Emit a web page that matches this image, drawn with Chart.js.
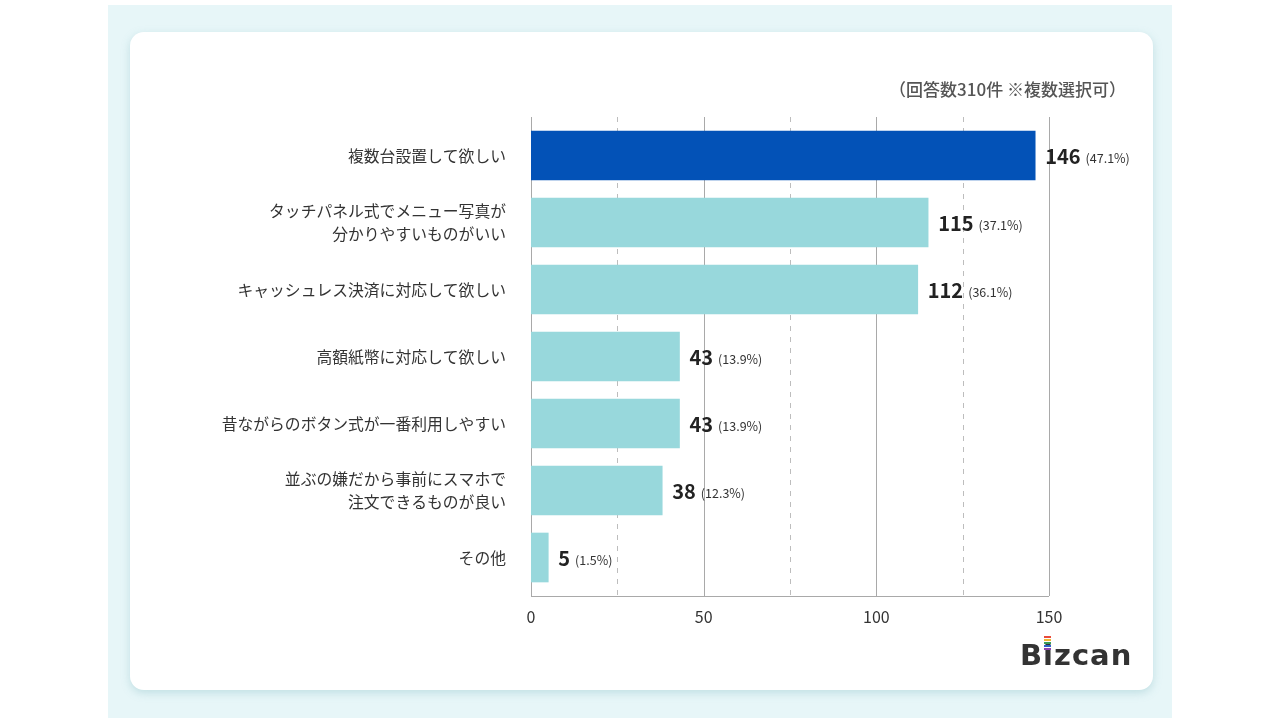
<!DOCTYPE html>
<html>
<head>
<meta charset="utf-8">
<script src="https://cdn.jsdelivr.net/npm/chart.js@4"></script>
<style>
  html, body { margin: 0; padding: 0; background: #ffffff; }
  #wrap { position: relative; width: 1280px; height: 720px; overflow: hidden; }
  #panel { position: absolute; left: 108px; top: 5px; width: 1064px; height: 713px; background: #e7f6f8; }
  #card { position: absolute; left: 130px; top: 32px; width: 1023px; height: 658px; background: #ffffff;
          border-radius: 14px; box-shadow: 0 3px 8px rgba(120, 180, 190, 0.35); }
  #chart { position: absolute; left: 0; top: 0; }
  #logo { position: absolute; left: 1020px; top: 640px; font-family: "DejaVu Sans", Lato, sans-serif;
          font-weight: 700; font-size: 29px; color: #333333; letter-spacing: 1px; line-height: 30px; }
  .flag { position: absolute; width: 7px; height: 2px; }
</style>
</head>
<body>
<div id="wrap">
  <div id="panel"></div>
  <div id="card"></div>
  <canvas id="chart" width="1280" height="720"></canvas>
  <div id="logo">Bizcan</div>
  <div class="flag" style="left:1044px;top:636px;background:#e94b3c"></div>
  <div class="flag" style="left:1044px;top:639px;background:#f2b632"></div>
  <div class="flag" style="left:1044px;top:642px;background:#3a9e5a"></div>
  <div class="flag" style="left:1044px;top:645px;background:#2e63c8"></div>
  <div class="flag" style="left:1044px;top:648px;background:#8e44ad"></div>
</div>
<script>
var categories = [
    '複数台設置して欲しい',
    ['タッチパネル式でメニュー写真が', '分かりやすいものがいい'],
    'キャッシュレス決済に対応して欲しい',
    '高額紙幣に対応して欲しい',
    '昔ながらのボタン式が一番利用しやすい',
    ['並ぶの嫌だから事前にスマホで', '注文できるものが良い'],
    'その他'
];
var counts = [146, 115, 112, 43, 43, 38, 5];
var percents = ['47.1%', '37.1%', '36.1%', '13.9%', '13.9%', '12.3%', '1.5%'];
var xTicks = [0, 50, 100, 150];
var noteText = '（回答数310件 ※複数選択可）';

var jpFont = '"Noto Sans CJK JP", "Noto Sans", sans-serif';
var barColors = counts.map(function (v, i) { return i === 0 ? '#0352b7' : '#98d8dc'; });

// grid lines drawn a little taller than the plot area, like the original
var gridPlugin = {
    id: 'gridPlugin',
    beforeDatasetsDraw: function (chart) {
        var ctx = chart.ctx;
        var xs = chart.scales.x;
        var a = chart.chartArea;
        var top = a.top - 5, bottom = a.bottom + 5;
        ctx.save();
        for (var v = 0; v <= 150; v += 25) {
            var px = Math.round(xs.getPixelForValue(v)) + 0.5;
            ctx.beginPath();
            if (v % 50 === 0) {
                ctx.setLineDash([]);
                ctx.strokeStyle = '#a9a9a9';
            } else {
                ctx.setLineDash([5, 6]);
                ctx.strokeStyle = '#bdbdbd';
            }
            ctx.lineWidth = 1;
            ctx.moveTo(px, top);
            ctx.lineTo(px, bottom);
            ctx.stroke();
        }
        ctx.setLineDash([]);
        ctx.strokeStyle = '#a9a9a9';
        ctx.beginPath();
        ctx.moveTo(xs.getPixelForValue(0), bottom + 0.5);
        ctx.lineTo(xs.getPixelForValue(150), bottom + 0.5);
        ctx.stroke();
        ctx.restore();
    }
};

var labelPlugin = {
    id: 'labelPlugin',
    afterDatasetsDraw: function (chart) {
        var ctx = chart.ctx;
        var meta = chart.getDatasetMeta(0);
        ctx.save();
        ctx.textBaseline = 'middle';
        meta.data.forEach(function (bar, i) {
            var x = bar.x + 10;
            var y = bar.y + 1;
            ctx.font = 'bold 20px ' + jpFont;
            ctx.fillStyle = '#222222';
            ctx.textAlign = 'left';
            var num = String(counts[i]);
            ctx.fillText(num, x, y);
            var w = ctx.measureText(num).width;
            ctx.font = '12.5px ' + jpFont;
            ctx.fillStyle = '#333333';
            ctx.fillText('(' + percents[i] + ')', x + w + 5, y + 2);
        });
        // note in the upper right
        ctx.font = '500 17px ' + jpFont;
        ctx.fillStyle = '#555555';
        ctx.textAlign = 'right';
        ctx.fillText(noteText, 1126, 90);
        ctx.restore();
    }
};

var ctx = document.getElementById('chart').getContext('2d');
var chart = new Chart(ctx, {
    type: 'bar',
    data: {
        labels: categories,
        datasets: [{
            data: counts,
            backgroundColor: barColors,
            borderWidth: 0,
            barThickness: 49
        }]
    },
    options: {
        indexAxis: 'y',
        responsive: false,
        animation: false,
        layout: { padding: { left: 0, right: 231, top: 122, bottom: 0 } },
        plugins: {
            legend: { display: false },
            tooltip: { enabled: false }
        },
        scales: {
            x: {
                min: 0,
                max: 150,
                afterBuildTicks: function (scale) {
                    scale.ticks = xTicks.map(function (v) { return { value: v }; });
                },
                grid: { display: false },
                border: { display: false },
                ticks: {
                    padding: 8,
                    color: '#333333',
                    font: { family: jpFont, size: 16 }
                },
                afterFit: function (scale) { scale.height = 129; }
            },
            y: {
                grid: { display: false, drawTicks: false },
                border: { display: false },
                ticks: {
                    padding: 25,
                    color: '#333333',
                    font: { family: jpFont, size: 15.8, lineHeight: 1.4 }
                },
                afterFit: function (scale) { scale.width = 531; }
            }
        }
    },
    plugins: [gridPlugin, labelPlugin]
});
</script>
</body>
</html>
